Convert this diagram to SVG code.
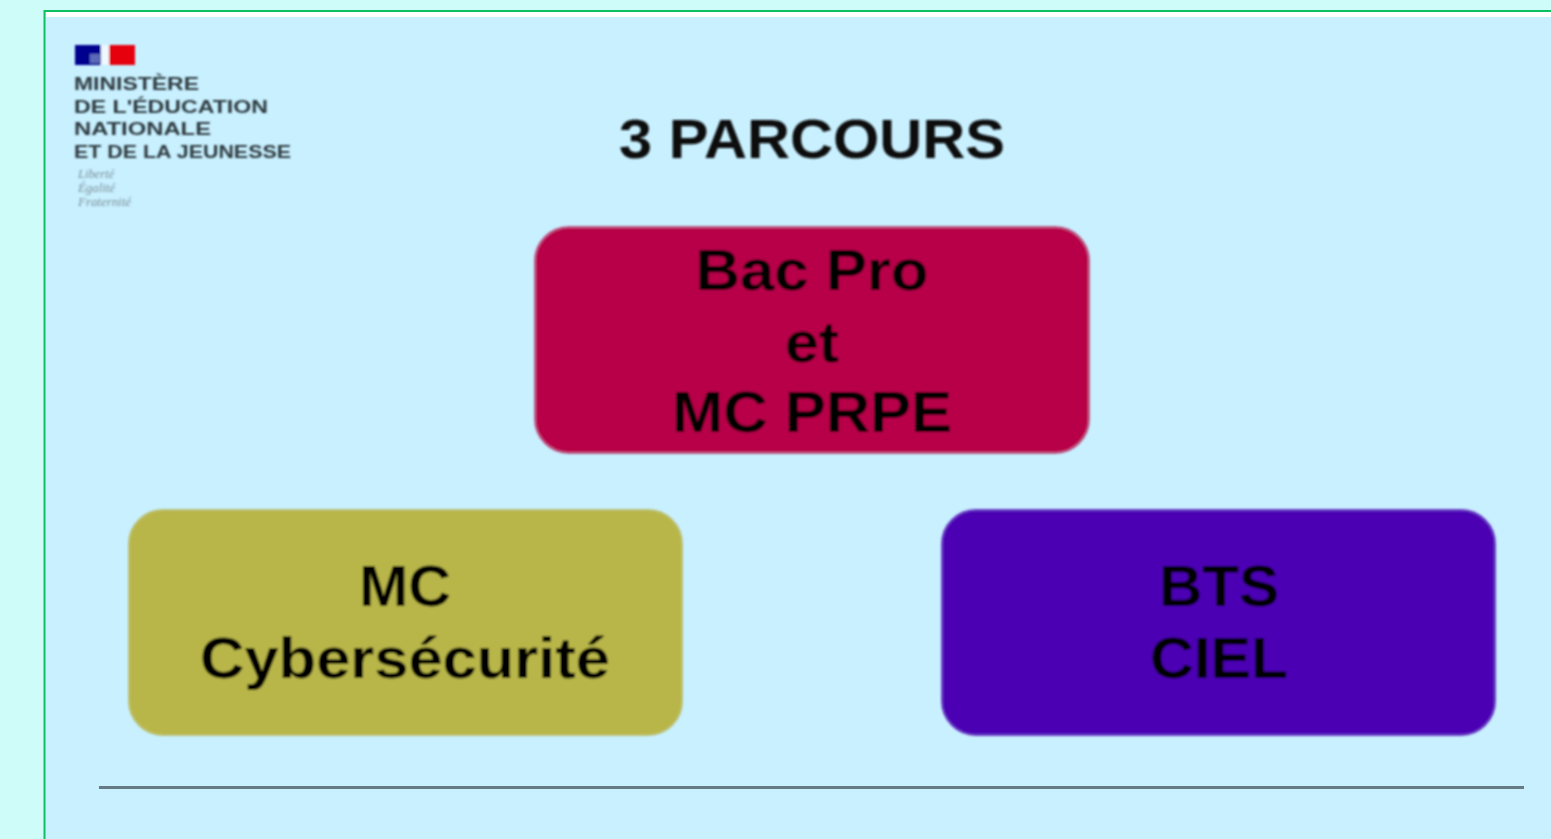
<svg xmlns="http://www.w3.org/2000/svg" width="1551" height="839" viewBox="0 0 1551 839">
<defs><filter id="soft" x="-5%" y="-5%" width="110%" height="110%"><feGaussianBlur stdDeviation="0.8"/></filter></defs>
<style>
text{font-family:"Liberation Sans",Arial,sans-serif;font-weight:700;fill:#000;text-anchor:middle}
.big{font-size:57px}
.title{font-size:55px;fill:#111}
.logo{font-size:19px;fill:#2f3a3f;text-anchor:start}
.motto{font-family:"Liberation Serif",serif;font-size:12px;font-style:italic;font-weight:400;fill:#7d8f98;text-anchor:start}
.box{stroke-width:2}
.soft{filter:url(#soft)}
</style>
<rect width="1551" height="839" fill="#cefcf8"/>
<rect x="45" y="11" width="1506" height="828" fill="#c8f0ff"/>
<rect x="46" y="12" width="1505" height="5" fill="#ffffff"/>
<path d="M44.500 839V11H1551" fill="none" stroke="#0cc061" stroke-width="2"/>
<g id="logo" class="soft">
<rect x="75" y="45" width="26" height="20" fill="#00008f"/>
<rect x="90" y="54" width="10" height="9" fill="#5a6ab8"/>
<rect x="101" y="45" width="8" height="20" fill="#eef8ff"/>
<rect x="109" y="45" width="26" height="20" fill="#e6000f"/>
<text class="logo" x="74" y="90" textLength="125" lengthAdjust="spacingAndGlyphs">MINISTÈRE</text>
<text class="logo" x="74" y="113" textLength="194" lengthAdjust="spacingAndGlyphs">DE L'ÉDUCATION</text>
<text class="logo" x="74" y="135" textLength="137" lengthAdjust="spacingAndGlyphs">NATIONALE</text>
<text class="logo" x="74" y="158" textLength="217" lengthAdjust="spacingAndGlyphs">ET DE LA JEUNESSE</text>
<text class="motto" x="78" y="178" textLength="36" lengthAdjust="spacingAndGlyphs">Liberté</text>
<text class="motto" x="78" y="192" textLength="37" lengthAdjust="spacingAndGlyphs">Égalité</text>
<text class="motto" x="78" y="206" textLength="53" lengthAdjust="spacingAndGlyphs">Fraternité</text>
</g>
<g id="title" class="soft"><text class="title" x="812" y="158" textLength="386" lengthAdjust="spacingAndGlyphs">3 PARCOURS</text></g>
<g id="node-bac" class="soft">
<rect class="box" x="535" y="227" width="554" height="226" rx="34" fill="#b80048" stroke="#bd5a88"/>
<text class="big" x="812" y="290" textLength="233" lengthAdjust="spacingAndGlyphs">Bac Pro</text>
<text class="big" x="812" y="362" textLength="54" lengthAdjust="spacingAndGlyphs">et</text>
<text class="big" x="812" y="432" textLength="280" lengthAdjust="spacingAndGlyphs">MC PRPE</text>
</g>
<g id="node-mc" class="soft">
<rect class="box" x="129" y="510" width="553" height="225" rx="34" fill="#b8b649" stroke="#bcc070"/>
<text class="big" x="405" y="606" textLength="92" lengthAdjust="spacingAndGlyphs">MC</text>
<text class="big" x="405" y="678" textLength="410" lengthAdjust="spacingAndGlyphs">Cybersécurité</text>
</g>
<g id="node-bts" class="soft">
<rect class="box" x="942" y="510" width="553" height="225" rx="34" fill="#4b00b4" stroke="#6a3cc4"/>
<text class="big" x="1219" y="606" textLength="120" lengthAdjust="spacingAndGlyphs">BTS</text>
<text class="big" x="1219" y="678" textLength="138" lengthAdjust="spacingAndGlyphs">CIEL</text>
</g>
<g id="connectors"/>
<line x1="99" y1="787.500" x2="1524" y2="787.500" stroke="#667a85" stroke-width="3"/>
</svg>
